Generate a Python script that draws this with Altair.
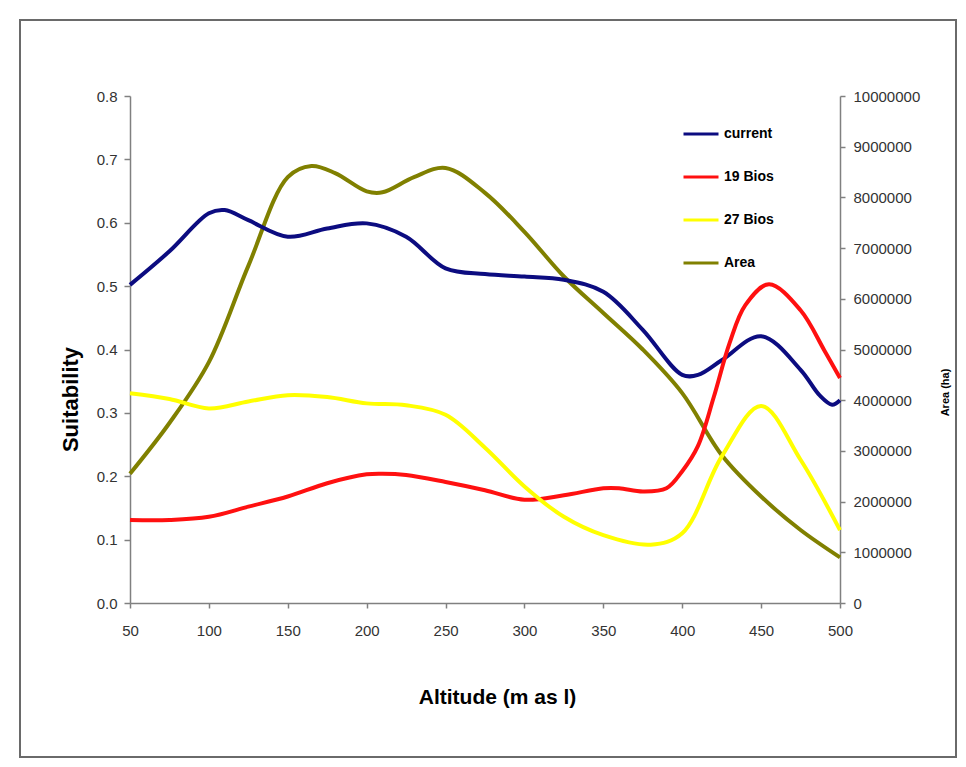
import altair as alt
import pandas as pd

# ---- data ----
series_names = ["current", "19 Bios", "27 Bios", "Area"]
series_colors = ["#0c0c80", "#ff1010", "#ffff00", "#808000"]

x_ticks = [50, 100, 150, 200, 250, 300, 350, 400, 450, 500]
y_ticks = [0.0, 0.1, 0.2, 0.3, 0.4, 0.5, 0.6, 0.7, 0.8]
area_ticks = [0, 1000000, 2000000, 3000000, 4000000, 5000000,
              6000000, 7000000, 8000000, 9000000, 10000000]

alt_current = [50, 75, 100, 110, 125, 150, 175, 200, 225, 250, 275, 300,
               325, 350, 375, 400, 410, 425, 450, 475, 487, 495, 500]
current = [0.502, 0.555, 0.615, 0.620, 0.604, 0.578, 0.591, 0.599, 0.578,
           0.528, 0.519, 0.515, 0.510, 0.491, 0.431, 0.360, 0.360, 0.383,
           0.421, 0.368, 0.328, 0.313, 0.320]

alt_19 = [50, 75, 100, 125, 150, 175, 200, 210, 225, 250, 275, 300, 325,
          350, 360, 375, 390, 400, 410, 420, 430, 440, 455, 475, 490, 500]
bios19 = [0.131, 0.131, 0.136, 0.152, 0.168, 0.189, 0.203, 0.204, 0.202,
          0.191, 0.178, 0.163, 0.170, 0.181, 0.181, 0.176, 0.181, 0.208,
          0.248, 0.325, 0.410, 0.470, 0.503, 0.462, 0.399, 0.355]

alt_27 = [50, 75, 100, 125, 150, 175, 200, 225, 250, 275, 300, 325, 350,
          380, 400, 425, 450, 475, 500]
bios27 = [0.331, 0.322, 0.307, 0.318, 0.328, 0.325, 0.315, 0.312, 0.297,
          0.245, 0.184, 0.136, 0.107, 0.092, 0.110, 0.231, 0.311, 0.226,
          0.115]

alt_area = [50, 75, 100, 125, 150, 165, 180, 200, 210, 230, 250, 275, 300,
            325, 350, 375, 400, 425, 450, 475, 500]
area = [2550000, 3550000, 4750000, 6650000, 8400000, 8620000, 8480000,
        8120000, 8100000, 8400000, 8580000, 8090000, 7320000, 6440000,
        5720000, 5000000, 4140000, 2920000, 2100000, 1440000, 900000]

suit_df = pd.concat([
    pd.DataFrame({"Altitude": alt_current, "Value": current, "Series": "current"}),
    pd.DataFrame({"Altitude": alt_19, "Value": bios19, "Series": "19 Bios"}),
    pd.DataFrame({"Altitude": alt_27, "Value": bios27, "Series": "27 Bios"}),
], ignore_index=True)
area_df = pd.DataFrame({"Altitude": alt_area, "Value": area, "Series": "Area"})

FONT = "Liberation Sans"

color_scale = alt.Scale(domain=series_names, range=series_colors)
legend = alt.Legend(
    title=None, orient="none", legendX=552, legendY=19, padding=0,
    symbolType="stroke", symbolSize=1225, symbolStrokeWidth=3,
    labelFont=FONT, labelFontSize=14, labelFontWeight="bold",
    labelColor="#000000", labelOffset=4, rowPadding=17,
)

x_enc = alt.X(
    "Altitude:Q",
    scale=alt.Scale(domain=[50, 500], nice=False, zero=False),
    axis=alt.Axis(values=x_ticks, title="Altitude (m as l)", format="d",
                  titleFontSize=21, titleX=367, titleY=94,
                  titleBaseline="middle", titleAlign="center",
                  tickSize=5, labelPadding=15, labelFlush=False),
)

suit = alt.Chart(suit_df).mark_line(interpolate="catmull-rom", strokeWidth=4).encode(
    x=x_enc,
    y=alt.Y("Value:Q", scale=alt.Scale(domain=[0, 0.8], nice=False),
            axis=alt.Axis(values=y_ticks, format=".1f", title="Suitability",
                          titleFontSize=22, titleX=-60, titleY=303,
                          titleAngle=270, titleAlign="center",
                          titleBaseline="middle", tickSize=6, labelPadding=7,
                          labelFlush=False)),
    color=alt.Color("Series:N", scale=color_scale, sort=series_names, legend=legend),
)

area_line = alt.Chart(area_df).mark_line(interpolate="catmull-rom", strokeWidth=4).encode(
    x=x_enc,
    y=alt.Y("Value:Q", scale=alt.Scale(domain=[0, 10000000], nice=False),
            axis=alt.Axis(orient="right", values=area_ticks, format="d",
                          title="Area (ha)", titleFontSize=11,
                          titleX=105, titleY=296, titleAngle=270,
                          titleAlign="center", titleBaseline="middle",
                          tickSize=5, labelPadding=8, labelFlush=False)),
    color=alt.Color("Series:N", scale=color_scale, sort=series_names, legend=legend),
)

frame = alt.Chart(pd.DataFrame({"k": [0]})).mark_rect(
    fill="transparent", stroke="#6a6a6a", strokeWidth=2
).encode(x=alt.value(-110), x2=alt.value(826), y=alt.value(-76), y2=alt.value(661))

chart = alt.layer(frame, area_line, suit).resolve_scale(y="independent").properties(
    width=710, height=507,
    padding={"left": 122, "top": 88, "right": 118, "bottom": 156},
    autosize=alt.AutoSizeParams(type="none"),
    background="white",
).configure_view(stroke=None).configure_axis(
    grid=False, domainColor="#808080", domainWidth=1.5,
    tickColor="#808080", tickWidth=1.5,
    labelFont=FONT, labelFontSize=15, labelColor="#333333",
    titleFont=FONT, titleFontWeight="bold", titleColor="#000000",
)

chart.save("out.html", embed_options={"renderer": "svg", "actions": False})
